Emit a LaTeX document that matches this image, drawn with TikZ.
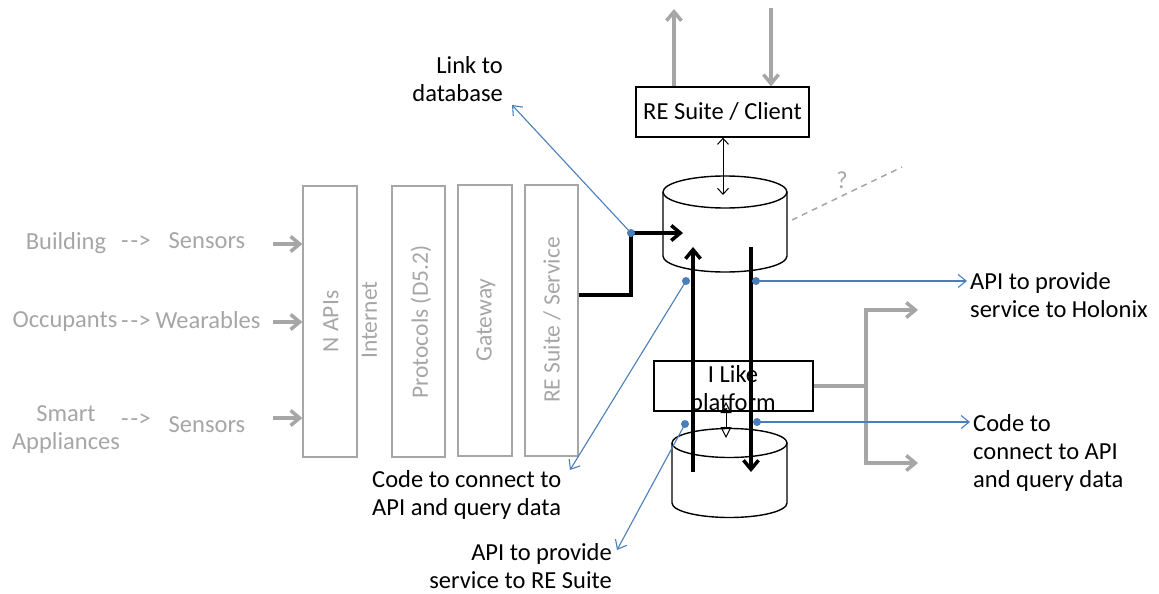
\documentclass[tikz,border=0pt]{standalone}
\usepackage{fontspec}
\setmainfont{Carlito}
\usetikzlibrary{arrows.meta}
\definecolor{lgray}{HTML}{A6A6A6}
\definecolor{oblue}{HTML}{4A7EBB}
\newcommand{\dasharr}{-\kern2pt-\kern0.5pt>}
\begin{document}
\begin{tikzpicture}[x=1pt,y=-1pt,
  txt/.style={font=\fontsize{24.5}{28}\selectfont, inner sep=0pt},
  gtxt/.style={txt, text=lgray},
  rtxt/.style={font=\fontsize{23.5}{28}\selectfont, text=lgray, rotate=90, inner sep=0pt},
  gbox/.style={draw=lgray, line width=1.3pt, inner sep=0pt},
  bbox/.style={draw=black, line width=1.3pt, inner sep=0pt, font=\fontsize{24.5}{28}\selectfont},
  cyl/.style={draw=black, line width=1.4pt},
  gline/.style={draw=lgray, line width=3.5pt},
  garrow/.style={gline, -{Straight Barb[length=9pt,width=15pt]}},
  barrow/.style={draw=black, line width=3.5pt, -{Straight Barb[length=9pt,width=15pt]}},
  tharrow/.style={draw=black, line width=1pt, {Straight Barb[length=6pt,width=11pt]}-{Straight Barb[length=6pt,width=11pt]}},
  oparrow/.style={draw=black, line width=1pt, {Triangle[open,length=11pt,width=11pt]}-{Triangle[open,length=11pt,width=11pt]}},
  blink/.style={draw=oblue, line width=1.1pt, -{Straight Barb[length=8pt,width=13pt]}},
  bdot/.style={circle, fill=oblue, inner sep=0pt, minimum size=8pt},
]
\useasboundingbox (0,0) rectangle (1159,594);

% left column texts
\node[gtxt] (bld) at (66,243) {Building};
\node[gtxt] (ar1) at (136,242) {\dasharr};
\node[gtxt] (sen1) at (207,241) {Sensors};
\node[gtxt] (occ) at (65,322) {Occupants};
\node[gtxt] (ar2) at (136,322) {\dasharr};
\node[gtxt] (wear) at (208,320) {Wearables};
\node[gtxt, align=center] (smart) at (66,430) {Smart\\Appliances};
\node[gtxt] (ar3) at (136,420) {\dasharr};
\node[gtxt] (sen2) at (207,425) {Sensors};

% gray boxes
\node[gbox, minimum width=54pt, minimum height=271pt] (napi) at (330,321.5) {};
\node[gbox, minimum width=53pt, minimum height=271pt] (prot) at (418.5,321.5) {};
\node[gbox, minimum width=54pt, minimum height=271pt] (gate) at (485,320.5) {};
\node[gbox, minimum width=53pt, minimum height=271pt] (rsvc) at (551.5,320.5) {};
\node[rtxt] (napit) at (331,321.5) {N APIs};
\node[rtxt] (inet) at (369.5,320) {Internet};
\node[rtxt] (prott) at (421,322) {Protocols (D5.2)};
\node[rtxt] (gatet) at (486,320) {Gateway};
\node[rtxt] (rsvct) at (552,320) {RE Suite / Service};

\coordinate (in1) at (273,244);
\coordinate (in2) at (273,322);
\coordinate (in3) at (273,418);
\draw[garrow] (in1) -- (in1 -| napi.west);
\draw[garrow] (in2) -- (in2 -| napi.west);
\draw[garrow] (in3) -- (in3 -| napi.west);

% client box and top arrows
\node[bbox, minimum width=173pt, minimum height=50pt] (client) at (722.5,112) {RE Suite / Client};
\coordinate (up1) at (674,9);
\coordinate (dn1) at (771,8);
\draw[garrow] (up1 |- client.north) -- (up1);
\draw[garrow] (dn1) -- (dn1 |- client.north);

% upper cylinder
\draw[cyl] (663,192) -- (663,256) arc[start angle=180,end angle=360,x radius=62pt,y radius=16pt] -- (787,192);
\draw[cyl] (725,192) ellipse[x radius=62pt,y radius=16pt];
\coordinate (db1top) at (723,195);
\draw[tharrow] (client.south -| db1top) -- (db1top);

% question dashed line
\coordinate (q1) at (792,220);
\coordinate (q2) at (902,167);
\draw[lgray, line width=1.5pt, dash pattern=on 6pt off 5pt] (q1) -- (q2);
\node[gtxt] (qm) at (842,180) {?};

% platform box
\node[bbox, minimum width=159pt, minimum height=50pt] (plat) at (733.5,386) {};
\node[txt, align=center] (platt) at (733,390) {I Like\\platform};

% lower cylinder
\draw[cyl] (672,443) -- (672,503) arc[start angle=180,end angle=360,x radius=57.5pt,y radius=14.5pt] -- (787,443);
\draw[cyl] (729.5,443) ellipse[x radius=57.5pt,y radius=14.5pt];
\coordinate (db2top) at (726,438);
\coordinate (platb) at (726,402);
\draw[oparrow] (platb) -- (db2top);

% gray branch from platform
\coordinate (br) at (866,386);
\coordinate (br1) at (918,310);
\coordinate (br2) at (918,463);
\draw[gline] (plat.east |- br) -- (br);
\draw[garrow] (br) -- (br |- br1) -- (br1);
\draw[garrow] (br) -- (br |- br2) -- (br2);

% black flows
\coordinate (k1) at (631,233);
\coordinate (k2) at (683,233);
\draw[barrow] (rsvc.east |- 0,295) -- (631,295) -- (k1) -- (k2);
\coordinate (ua) at (693,472);
\coordinate (ub) at (693,247);
\coordinate (da) at (751,247);
\coordinate (db) at (751,472);
\draw[barrow] (ua) -- (ub);
\draw[barrow] (da) -- (db);

% blue annotations
\node[txt, align=right, anchor=east] (lnk) at (503,79) {Link to\\database};
\node[txt, align=left, anchor=west] (holo) at (970,295) {API to provide\\service to Holonix};
\node[txt, align=left, anchor=west] (code2) at (973,453) {Code to\\connect to API\\and query data};
\node[txt, align=left, anchor=west] (code1) at (372,495) {Code to connect to\\API and query data};
\node[txt, align=right, anchor=east] (apire) at (612,566) {API to provide\\service to RE Suite};

\coordinate (p1) at (686,281);
\coordinate (p2) at (756,281);
\coordinate (p3) at (685,424);
\coordinate (p4) at (757,422);
\draw[blink] (k1) -- (512,105);
\draw[blink] (p1) -- (570,470);
\draw[blink] (p2) -- (967,281);
\draw[blink] (p3) -- (617,550);
\draw[blink] (p4) -- (970,422);
\foreach \p in {k1,p1,p2,p3,p4} \node[bdot] at (\p) {};
\end{tikzpicture}
\end{document}
